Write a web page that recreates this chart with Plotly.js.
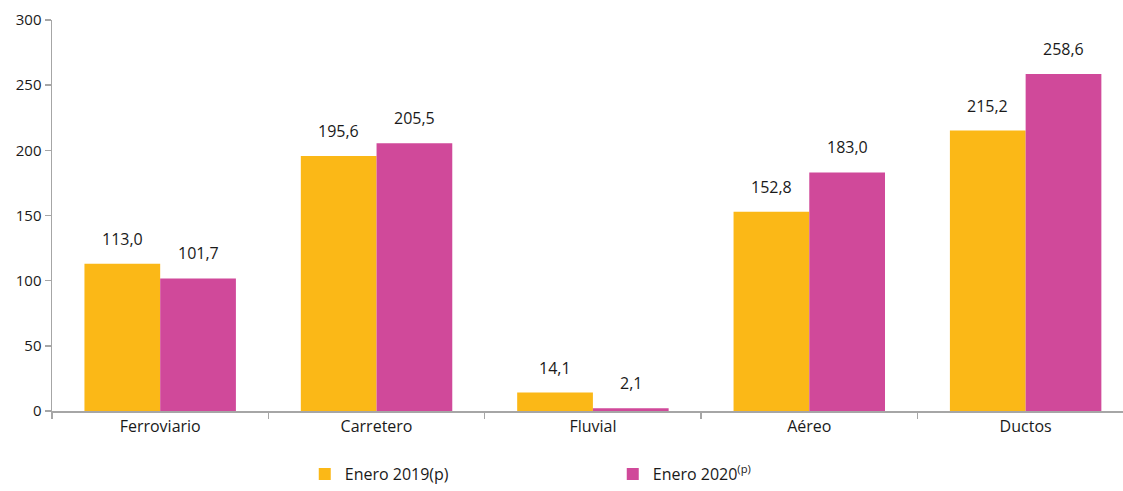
<!DOCTYPE html>
<html>
<head>
<meta charset="utf-8">
<script src="https://cdn.plot.ly/plotly-3.0.1.min.js"></script>
<style>html,body{margin:0;padding:0;overflow:hidden;background:#fff}#chart{width:1123px;height:491px}</style>
</head>
<body>
<div id="chart"></div>
<script>
const categories = ["Ferroviario", "Carretero", "Fluvial", "Aéreo", "Ductos"];
const serie2019 = [113.0, 195.6, 14.1, 152.8, 215.2];
const serie2020 = [101.7, 205.5, 2.1, 183.0, 258.6];
const seriesNames = ["Enero 2019(p)", "Enero 2020<sup>(p)</sup>"];
const yTicks = [0, 50, 100, 150, 200, 250, 300];

const colors = ["#FBB817", "#D0499A"];
const font = "'Open Sans', 'Noto Sans', sans-serif";

const fmt = v => v.toFixed(1).replace(".", ",");

const traces = [serie2019, serie2020].map((vals, i) => ({
  type: "bar",
  name: seriesNames[i],
  x: categories,
  y: vals,
  marker: {color: colors[i]},
  hoverinfo: "none"
}));

const annotations = [];
[serie2019, serie2020].forEach((vals, s) => {
  vals.forEach((v, k) => {
    annotations.push({
      x: k + (s === 0 ? -0.175 : 0.175),
      y: v,
      xref: "x", yref: "y",
      text: fmt(v),
      showarrow: false,
      yanchor: "bottom",
      yshift: 12,
      font: {family: font, size: 16, color: "#1a1a1a"}
    });
  });
});

const layout = {
  width: 1123, height: 491,
  margin: {l: 52, r: 0, t: 20, b: 80, autoexpand: false},
  paper_bgcolor: "#fff", plot_bgcolor: "#fff",
  barmode: "group",
  bargap: 0.3,
  bargroupgap: 0,
  showlegend: true,
  font: {family: font, size: 15, color: "#1a1a1a"},
  xaxis: {
    type: "category",
    range: [-0.5, 4.45],
    showline: true, linecolor: "#a6a6a6", linewidth: 1.5,
    ticks: "outside", tickson: "boundaries", ticklen: 6, tickcolor: "#a6a6a6", tickwidth: 1.5,
    tickfont: {family: font, size: 16, color: "#1a1a1a"},
    showgrid: false, zeroline: false,
    automargin: false,
    fixedrange: true
  },
  yaxis: {
    range: [0, 300],
    tickvals: yTicks,
    ticktext: yTicks.map(String),
    showline: true, linecolor: "#a6a6a6", linewidth: 1.5,
    ticks: "outside", ticklen: 6, tickcolor: "#a6a6a6", tickwidth: 1.5,
    tickfont: {family: font, size: 15, color: "#1a1a1a"},
    showgrid: false, zeroline: false,
    automargin: false,
    fixedrange: true
  },
  legend: {
    orientation: "h",
    x: 0.236, xanchor: "left",
    yref: "container",
    y: -0.006, yanchor: "bottom",
    entrywidth: 263,
    font: {family: font, size: 16, color: "#1a1a1a"}
  },
  annotations: annotations
};

Plotly.newPlot("chart", traces, layout, {displayModeBar: false, staticPlot: true});
</script>
</body>
</html>
